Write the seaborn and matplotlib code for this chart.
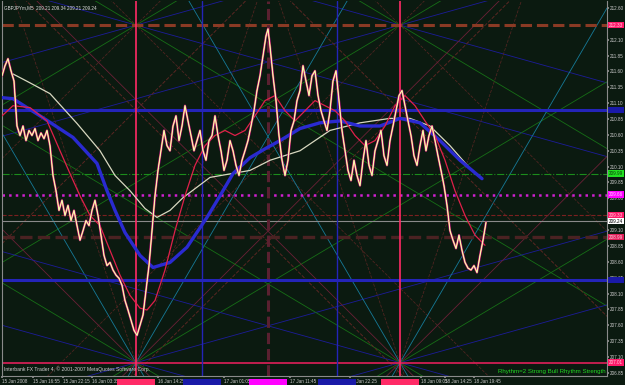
import matplotlib
matplotlib.use("Agg")
import matplotlib.pyplot as plt
import seaborn as sns
import pandas as pd

sns.set_theme(style="dark")
plt.rcParams['font.family'] = ['Liberation Sans', 'DejaVu Sans']

BG = '#0b1a10'

# ---------------- data ----------------
bars = [2,5,8,11,14,17,20,23,26,29,32,35,38,41,44,47,50,53,56,59,62,65,68,71,74,77,80,83,86,89,
        92,95,98,101,104,107,110,113,116,119,122,125,128,131,134,137,140,143,146,149,152,155,158,161,164,167,170,173,176,179,
        182,185,188,191,194,197,200,203,206,209,212,215,218,221,224,227,230,233,236,239,242,245,248,251,254,257,260,263,266,268,
        270,273,276,279,282,285,288,291,294,297,300,303,306,309,312,315,318,321,324,327,330,333,336,339,342,345,348,351,354,357,
        360,363,366,369,372,375,378,381,384,387,390,393,396,399,402,405,408,411,414,417,420,423,426,429,432,435,438,441,444,447,
        450,453,456,459,462,465,468,471,474,477,480,483,486]
close = [211.53,211.69,211.80,211.61,211.45,210.74,210.59,210.74,210.51,210.67,210.59,210.70,210.51,210.63,210.54,210.67,210.43,209.96,209.72,209.41,
         209.57,209.33,209.49,209.25,209.41,209.17,208.94,209.09,209.25,209.17,209.41,209.57,209.33,209.02,208.70,208.54,208.59,208.47,208.39,208.34,
         208.23,207.99,207.84,207.68,207.52,207.44,207.60,207.76,208.15,208.54,209.09,209.64,210.04,210.35,210.67,210.43,210.35,210.74,210.90,210.51,
         210.74,211.06,210.82,210.59,210.35,210.51,210.67,210.35,210.20,210.51,210.59,210.90,210.59,210.35,210.04,210.20,210.51,210.35,210.12,209.96,
         210.20,210.35,210.51,210.74,210.98,211.30,211.53,211.85,212.16,212.27,212.00,211.53,211.14,210.59,210.20,209.96,210.20,210.67,210.82,211.14,
         211.30,211.69,211.45,211.22,211.53,211.61,211.22,210.98,210.82,210.67,210.98,211.45,211.61,211.14,210.67,210.35,210.04,209.88,210.20,209.96,
         209.80,210.20,210.51,210.12,209.96,210.35,210.51,210.67,210.27,210.12,210.51,210.74,210.98,211.22,211.30,211.06,210.82,210.59,210.27,210.12,
         210.43,210.67,210.35,210.59,210.74,210.51,210.27,210.04,209.80,209.49,209.09,208.94,208.81,209.02,208.78,208.59,208.50,208.47,208.54,208.43,
         208.70,208.94,209.22]

red_ma_bars = [0,13,30,47,60,70,80,90,100,110,120,130,140,147,155,165,175,185,195,205,215,225,235,245,255,265,275,285,295,305,
               315,325,335,345,355,365,375,385,395,405,415,425,435,445,455,465,475,485]
red_ma = [210.87,211.06,211.03,210.82,210.35,209.99,209.64,209.33,209.17,208.78,208.39,208.07,207.87,207.84,207.99,208.47,209.09,209.64,210.12,210.43,
          210.59,210.67,210.59,210.67,210.90,211.14,211.22,210.98,210.82,210.98,211.14,211.06,210.98,210.82,210.59,210.43,210.51,210.74,211.06,211.22,
          211.06,210.82,210.59,210.20,209.72,209.33,209.02,208.86]

blue_ma_bars = [0,13,43,73,97,107,115,125,140,153,170,187,207,220,233,250,265,280,300,320,340,360,380,400,420,440,460,482]
blue_ma = [211.19,211.17,210.87,210.56,210.15,209.72,209.41,209.06,208.70,208.51,208.59,208.83,209.30,209.64,209.99,210.24,210.38,210.51,210.70,210.79,
           210.82,210.74,210.74,210.86,210.79,210.51,210.20,209.91]

white_ma_bars = [13,30,50,77,100,115,130,145,157,170,183,210,250,270,300,330,360,390,410,430,450,470,482]
white_ma = [211.56,211.42,211.25,210.78,210.35,209.96,209.72,209.44,209.30,209.41,209.61,209.93,210.04,210.20,210.35,210.67,210.79,210.86,210.86,210.74,
            210.43,210.07,209.91]

# horizontal levels
h_prices = [212.33, 210.99, 209.99, 209.66, 209.33, 209.24, 208.99, 208.31, 207.01]
h_colors = ['#8a3a24', '#2424b8', '#1c8c1c', '#d020d0', '#7a2020', '#8a8a8a', '#4a2222', '#2424b8', '#e0205a']
h_styles = ['--', '-', '-.', ':', '--', '-', '--', '-', '-']
h_widths = [2.2, 2.2, 0.8, 1.8, 0.8, 0.8, 2.4, 2.2, 1.2]
h_label_bg = ['#ff1a6a', '#1a1aa8', '#22e022', '#ff00ff', '#ff1a6a', '#ffffff', '#e0205a', '#1a1aa8', '#ff1a6a']
h_label_fg = ['#ffd0e0', '#1a1aa8', '#0a3a0a', '#ffd0ff', '#ffd0e0', '#000000', '#ffd0e0', '#1a1aa8', '#ffd0e0']

# vertical lines
v_bars = [136, 202, 268, 337, 400]
v_colors = ['#ff2a66', '#2424b8', '#5a2030', '#2424b8', '#ff2a66']
v_styles = ['-', '-', '--', '-', '-']
v_widths = [1.2, 1.0, 2.2, 1.0, 1.2]
v_box = ['#ff2a66', '#1a1aa8', '#ff00ff', '#1a1aa8', '#ff2a66']
v_text = ['2008.01.16 09:25', '2008.01.16 20:05', '2008.01.17 06:45', '2008.01.17 17:25', '2008.01.18 04:05']

# Gann fans (anchor and slopes in price per bar)
top_anchor_bar = [136, 400]
top_anchor_price = [212.33, 212.33]
top_slopes = [0.0044, 0.0094, 0.0157]
top_colors = ['#1c1c98', '#166e16', '#4e2420']
top_styles = ['-', '-', '--']
bottom_anchor_bar = [136, 400]
bottom_anchor_price = [207.01, 207.01]
bottom_slopes = [0.0044, 0.0094, 0.0157, 0.027, 0.047]
bottom_colors = ['#1c1c98', '#166e16', '#6a2036', '#167a98', '#4e2420']
bottom_styles = ['-', '-', '-', '-', '--']
lattice_bar = [136, 400]
lattice_price = [210.99, 210.99]
lattice_slope = 0.0157

# axis labels
y_ticks = [206.85, 207.10, 207.35, 207.60, 207.85, 208.10, 208.35, 208.60, 208.85, 209.10, 209.35, 209.60,
           209.85, 210.10, 210.35, 210.60, 210.85, 211.10, 211.35, 211.60, 211.85, 212.10, 212.35, 212.60]
x_tick_bars = [2, 33, 63, 92, 158, 224, 290, 350, 421, 445, 474]
x_tick_labels = ['15 Jan 2008', '15 Jan 16:55', '15 Jan 22:15', '16 Jan 03:35', '16 Jan 14:25', '17 Jan 01:05',
                 '17 Jan 11:45', '17 Jan 22:25', '18 Jan 09:05', '18 Jan 14:25', '18 Jan 19:45']

X0, X1 = 2, 607
Y0, Y1 = 206.80, 212.71
SMALL = 3.3

# ---------------- figure ----------------
fig = plt.figure(figsize=(6.25, 3.85), dpi=100, facecolor=BG)
ax = fig.add_axes([2/625, 9/385, 605/625, 375/385])
ax.set_facecolor(BG)


def full_line(abar, aprice, slope, **kw):
    ax.plot([X0, X1], [aprice + slope * (X0 - abar), aprice + slope * (X1 - abar)], **kw)


for abar, aprice in zip(top_anchor_bar, top_anchor_price):
    for s, c, ls in zip(top_slopes, top_colors, top_styles):
        for sign in (1, -1):
            full_line(abar, aprice, sign * s, color=c, lw=0.6, ls=ls, zorder=1)
for abar, aprice in zip(bottom_anchor_bar, bottom_anchor_price):
    for s, c, ls in zip(bottom_slopes, bottom_colors, bottom_styles):
        for sign in (1, -1):
            full_line(abar, aprice, sign * s, color=c, lw=0.6, ls=ls, zorder=1)
for abar, aprice in zip(lattice_bar, lattice_price):
    for sign in (1, -1):
        full_line(abar, aprice, sign * lattice_slope, color='#5a2622', lw=0.7, ls='--', zorder=1)

# horizontal and vertical lines
for p, c, ls, w in zip(h_prices, h_colors, h_styles, h_widths):
    ax.axhline(p, color=c, ls=ls, lw=w, zorder=2)
for b, c, ls, w in zip(v_bars, v_colors, v_styles, v_widths):
    ax.axvline(b, color=c, ls=ls, lw=w, zorder=2)

# moving averages
sns.lineplot(x=white_ma_bars, y=white_ma, ax=ax, color='#d8d8c0', lw=0.9, zorder=3)
sns.lineplot(x=blue_ma_bars, y=blue_ma, ax=ax, color='#2a2ad0', lw=2.4, zorder=3)
sns.lineplot(x=red_ma_bars, y=red_ma, ax=ax, color='#e0204a', lw=0.9, zorder=3)

# price
price = pd.DataFrame({'bar': bars, 'close': close})
sns.lineplot(data=price, x='bar', y='close', ax=ax, color='#d01890', lw=1.6, zorder=4)
sns.lineplot(data=price, x='bar', y='close', ax=ax, color='#f0f040', lw=0.8, zorder=5)
sns.lineplot(data=price, x='bar', y='close', ax=ax, color='#ffffff', lw=0.4, zorder=6)

ax.set_xlim(X0, X1)
ax.set_ylim(Y0, Y1)
ax.set_xlabel('')
ax.set_ylabel('')

# axes styling
ax.yaxis.tick_right()
ax.set_yticks(y_ticks)
ax.set_yticklabels([f'{v:.2f}' for v in y_ticks], fontsize=SMALL, color='#c8c8c8')
ax.set_xticks(x_tick_bars)
ax.set_xticklabels(x_tick_labels, fontsize=SMALL, color='#c8c8c8', ha='left')
ax.tick_params(axis='y', which='both', length=1.5, color='#909090', pad=0.8, right=True)
ax.tick_params(axis='x', which='both', length=1.5, color='#909090', pad=1.0, bottom=True)
for side in ['right', 'bottom', 'left']:
    ax.spines[side].set_color('#8a8a8a')
    ax.spines[side].set_linewidth(0.8)
ax.spines['top'].set_visible(False)
ax.grid(False)

# right price labels
ytr = ax.get_yaxis_transform()
for p, bg, fg in zip(h_prices, h_label_bg, h_label_fg):
    ax.text(1.003, p, f'{p:.2f}', transform=ytr, fontsize=SMALL, color=fg, va='center', ha='left',
            bbox=dict(boxstyle='square,pad=0.15', fc=bg, ec='none'), zorder=10, clip_on=False)

# bottom time labels for vertical lines
xtr = ax.get_xaxis_transform()
for b, bg, t in zip(v_bars, v_box, v_text):
    ax.text(b, -0.016, t, transform=xtr, fontsize=SMALL, color=bg, va='center', ha='center',
            bbox=dict(boxstyle='square,pad=0.2', fc=bg, ec='none'), zorder=10, clip_on=False)

# texts
ax.text(0.004, 0.988, 'GBPJPYm,M5  209.21 209.34 209.21 209.24', transform=ax.transAxes,
        fontsize=SMALL, color='#e0e0e0', va='top', ha='left', zorder=10)
ax.text(0.004, 0.012, 'Interbank FX Trader 4, \u00a9 2001-2007 MetaQuotes Software Corp.', transform=ax.transAxes,
        fontsize=3.6, color='#d0d0d0', va='bottom', ha='left', zorder=10)
ax.text(0.997, 0.006, 'Rhythm=2 Strong Bull Rhythm Strength', transform=ax.transAxes,
        fontsize=4.4, color='#22d822', va='bottom', ha='right', zorder=10)

fig.savefig('out.png', dpi=100, facecolor=BG)
